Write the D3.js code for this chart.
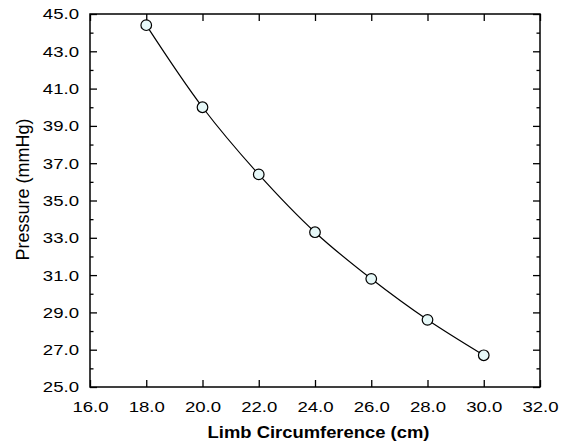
<!DOCTYPE html>
<html><head><meta charset="utf-8">
<script src="https://cdn.jsdelivr.net/npm/d3@7"></script>
<style>body{margin:0;background:#fff}svg{display:block}text{font-family:"Liberation Sans",Arial,sans-serif}</style>
</head><body>
<script>
const circumference = [18, 20, 22, 24, 26, 28, 30];
const pressure = [44.4, 40.0, 36.4, 33.3, 30.8, 28.6, 26.7];
const xTicks = [16, 18, 20, 22, 24, 26, 28, 30, 32];
const yMajorTicks = [25, 27, 29, 31, 33, 35, 37, 39, 41, 43, 45];
const yMinorTicks = [26, 28, 30, 32, 34, 36, 38, 40, 42, 44];

const W = 565, H = 446;
const m = {left: 90, right: 25, top: 14, bottom: 59};
const svg = d3.select("body").append("svg").attr("width", W).attr("height", H);
const x = d3.scaleLinear().domain([16, 32]).range([m.left, W - m.right]);
const y = d3.scaleLinear().domain([25, 45]).range([H - m.bottom, m.top]);
const fmt = d3.format(".1f");
const fs = 15.5, sx = 1.2;

function style(g){ g.select(".domain").remove(); g.selectAll("line").attr("stroke","#000").attr("stroke-width",1.3); g.selectAll("text").attr("font-size", fs).attr("fill","#000"); }

// bottom axis
svg.append("g").attr("transform",`translate(0,${y(25)})`)
  .call(d3.axisBottom(x).tickValues(xTicks).tickFormat(fmt).tickSizeInner(-7).tickSizeOuter(0).tickPadding(13.5))
  .call(style)
  .call(g => g.selectAll("text").attr("transform", `scale(${sx},1)`));
// top axis
svg.append("g").attr("transform",`translate(0,${y(45)})`)
  .call(d3.axisTop(x).tickValues(xTicks).tickFormat("").tickSizeInner(-7).tickSizeOuter(0))
  .call(style);
// left axis major
svg.append("g").attr("transform",`translate(${x(16)},0)`)
  .call(d3.axisLeft(y).tickValues(yMajorTicks).tickFormat(fmt).tickSizeInner(-7).tickSizeOuter(0))
  .call(style)
  .call(g => g.selectAll("text").attr("x", -11 / sx).attr("transform", `scale(${sx},1)`));
svg.append("g").attr("transform",`translate(${x(16)},0)`)
  .call(d3.axisLeft(y).tickValues(yMinorTicks).tickFormat("").tickSizeInner(-3.5).tickSizeOuter(0))
  .call(style);
// right axis
svg.append("g").attr("transform",`translate(${x(32)},0)`)
  .call(d3.axisRight(y).tickValues(yMajorTicks).tickFormat("").tickSizeInner(-7).tickSizeOuter(0))
  .call(style);
svg.append("g").attr("transform",`translate(${x(32)},0)`)
  .call(d3.axisRight(y).tickValues(yMinorTicks).tickFormat("").tickSizeInner(-3.5).tickSizeOuter(0))
  .call(style);

// frame
svg.append("rect").attr("x", x(16)).attr("y", y(45)).attr("width", x(32)-x(16)).attr("height", y(25)-y(45))
  .attr("fill","none").attr("stroke","#000").attr("stroke-width",1.5);

const data = circumference.map((c,i)=>({c, p: pressure[i]}));
svg.append("path").datum(data)
  .attr("d", d3.line().x(d=>x(d.c)).y(d=>y(d.p)).curve(d3.curveCatmullRom))
  .attr("fill","none").attr("stroke","#000").attr("stroke-width",1.2);
svg.selectAll("circle.pt").data(data).join("circle").attr("class","pt")
  .attr("cx", d=>x(d.c)).attr("cy", d=>y(d.p)).attr("r", 5.3)
  .attr("fill","#e6f8f8").attr("stroke","#000").attr("stroke-width",1.2);

const bx = 1.15;
svg.append("text").attr("transform", `scale(${bx},1)`).attr("x", 318.5 / bx).attr("y", 438).attr("text-anchor","middle")
  .attr("font-size", 16).attr("font-weight","bold").text("Limb Circumference (cm)");
svg.append("text").attr("transform",`translate(28.5,189.5) rotate(-90)`).attr("text-anchor","middle")
  .attr("font-size", 18).text("Pressure (mmHg)");
</script>
</body></html>
